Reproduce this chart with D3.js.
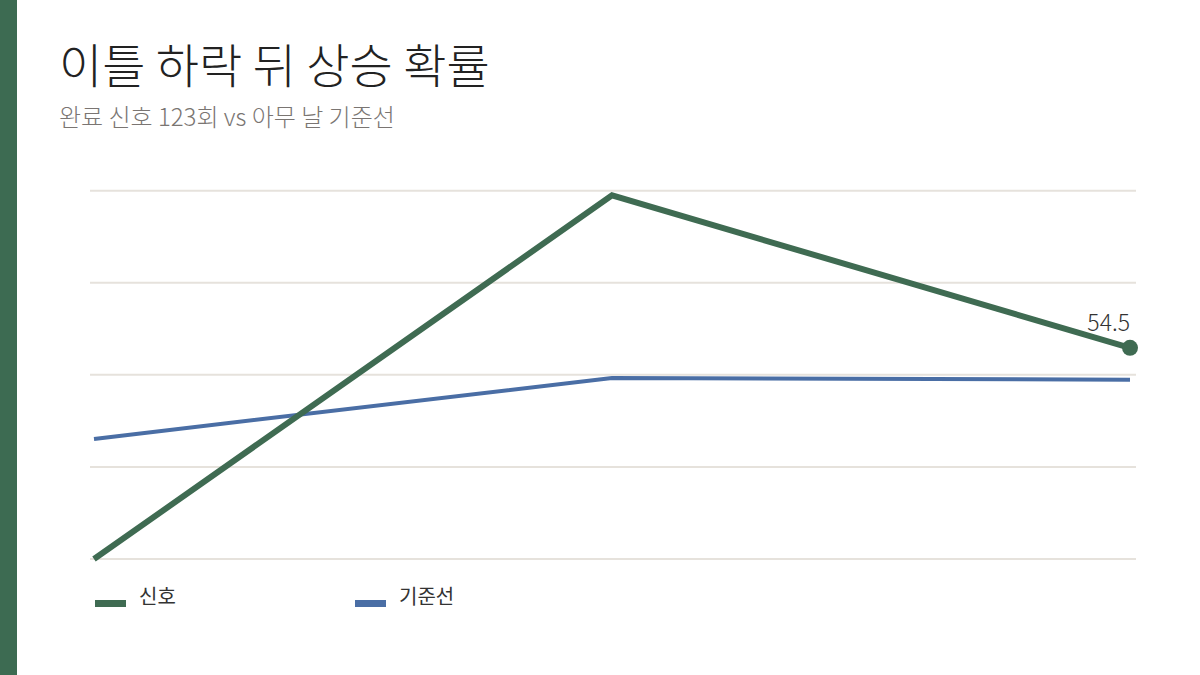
<!DOCTYPE html>
<html><head><meta charset="utf-8">
<script src="https://cdn.jsdelivr.net/npm/d3@7"></script>
<style>
html,body{margin:0;padding:0;background:#fff;}
svg{display:block;font-family:"Noto Sans CJK KR","Noto Sans",sans-serif;}
</style></head>
<body><svg id="c" width="1200" height="675"></svg>
<script>
const categories = ["1일 뒤", "5일 뒤", "20일 뒤"];
const signalValues = [50.0, 57.75, 54.5];
const baselineValues = [52.56, 53.86, 53.82];
const yDomain = [50, 57.85];
const gridCount = 5;
const seriesNames = ["신호", "기준선"];
const titleText = "이틀 하락 뒤 상승 확률";
const subtitleText = "완료 신호 123회 vs 아무 날 기준선";

const colors = {signal:"#3f6b52", base:"#4a6ea5"};
const svg = d3.select("#c");

svg.append("rect").attr("x",0).attr("y",0).attr("width",17).attr("height",675).attr("fill","#3d6b52");

svg.append("text").attr("x",59).attr("y",83).attr("font-size",47).attr("font-weight",300)
  .attr("fill","#222").text(titleText);
svg.append("text").attr("x",59).attr("y",126).attr("font-size",24).attr("font-weight",300)
  .attr("fill","#7a7572").text(subtitleText);

const x = d3.scalePoint().domain(categories).range([94,1130]);
const y = d3.scaleLinear().domain(yDomain).range([559,190.7]);

const gridVals = d3.range(gridCount).map(i => yDomain[0] + i*(yDomain[1]-yDomain[0])/(gridCount-1));
svg.append("g").selectAll("line").data(gridVals).join("line")
  .attr("x1",90).attr("x2",1136)
  .attr("y1",d=>y(d)).attr("y2",d=>y(d))
  .attr("stroke","#e6e2dc").attr("stroke-width",2);

const line = d3.line().x((d,i)=>x(categories[i])).y(d=>y(d));

svg.append("path").attr("d",line(baselineValues)).attr("fill","none")
  .attr("stroke",colors.base).attr("stroke-width",4);
svg.append("path").attr("d",line(signalValues)).attr("fill","none")
  .attr("stroke",colors.signal).attr("stroke-width",6).attr("stroke-linejoin","miter");

const last = signalValues.length-1;
svg.append("circle").attr("cx",x(categories[last])).attr("cy",y(signalValues[last]))
  .attr("r",8).attr("fill",colors.signal);
svg.append("text").attr("x",x(categories[last])).attr("y",y(signalValues[last])-17)
  .attr("text-anchor","end").attr("font-size",23).attr("font-weight",300).attr("fill","#333")
  .text(d3.format(".1f")(signalValues[last]));

const legend = svg.append("g");
const lx = [95,355];
const lc = [colors.signal, colors.base];
seriesNames.forEach((n,i)=>{
  legend.append("rect").attr("x",lx[i]).attr("y",600).attr("width",31).attr("height",7).attr("fill",lc[i]);
  legend.append("text").attr("x",lx[i]+44).attr("y",604).attr("font-size",20)
    .attr("fill","#333").text(n);
});
</script></body></html>
